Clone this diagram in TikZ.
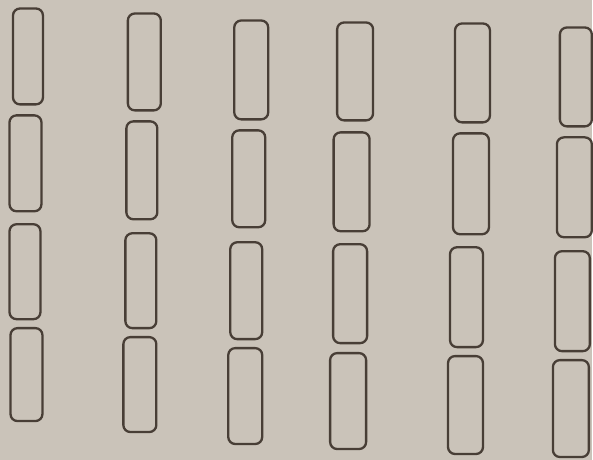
\documentclass[tikz,border=0pt]{standalone}
\usepackage{tikz}

\definecolor{paper}{RGB}{202,195,185}
\definecolor{slotline}{RGB}{72,62,54}

\begin{document}
\begin{tikzpicture}[x=1pt, y=-1pt,
  slot/.style={draw=slotline, line width=2.3pt, rounded corners=7pt, inner sep=0pt}]

\fill [paper] (0,0) rectangle (593,460);

% column 1
\node [slot, minimum width=30pt, minimum height=96pt] (c1r1) at (28,56.5) {};
\node [slot, minimum width=32pt, minimum height=96pt] (c1r2) at (25.5,163.5) {};
\node [slot, minimum width=31pt, minimum height=95pt] (c1r3) at (25,272) {};
\node [slot, minimum width=32pt, minimum height=93pt] (c1r4) at (26.5,375) {};

% column 2
\node [slot, minimum width=33pt, minimum height=97pt] (c2r1) at (144.5,62) {};
\node [slot, minimum width=31pt, minimum height=98pt] (c2r2) at (142,170.5) {};
\node [slot, minimum width=31pt, minimum height=95pt] (c2r3) at (141,281) {};
\node [slot, minimum width=33pt, minimum height=95pt] (c2r4) at (140,385) {};

% column 3
\node [slot, minimum width=34pt, minimum height=99pt] (c3r1) at (251.5,70) {};
\node [slot, minimum width=33pt, minimum height=97pt] (c3r2) at (249,179) {};
\node [slot, minimum width=32pt, minimum height=97pt] (c3r3) at (246.5,291) {};
\node [slot, minimum width=34pt, minimum height=96pt] (c3r4) at (245.5,396.5) {};

% column 4
\node [slot, minimum width=36pt, minimum height=98pt] (c4r1) at (355.5,71.5) {};
\node [slot, minimum width=36pt, minimum height=99pt] (c4r2) at (352,182) {};
\node [slot, minimum width=34pt, minimum height=99pt] (c4r3) at (350.5,294) {};
\node [slot, minimum width=36pt, minimum height=96pt] (c4r4) at (348.5,401.5) {};

% column 5
\node [slot, minimum width=35pt, minimum height=99pt] (c5r1) at (473,73) {};
\node [slot, minimum width=36pt, minimum height=101pt] (c5r2) at (471.5,184) {};
\node [slot, minimum width=33pt, minimum height=100pt] (c5r3) at (467,297.5) {};
\node [slot, minimum width=35pt, minimum height=98pt] (c5r4) at (466,405.5) {};

% column 6
\node [slot, minimum width=32pt, minimum height=99pt] (c6r1) at (576.5,77) {};
\node [slot, minimum width=35pt, minimum height=100pt] (c6r2) at (575,187.5) {};
\node [slot, minimum width=35pt, minimum height=100pt] (c6r3) at (573,301.5) {};
\node [slot, minimum width=36pt, minimum height=97pt] (c6r4) at (571.5,409) {};

\end{tikzpicture}
\end{document}
